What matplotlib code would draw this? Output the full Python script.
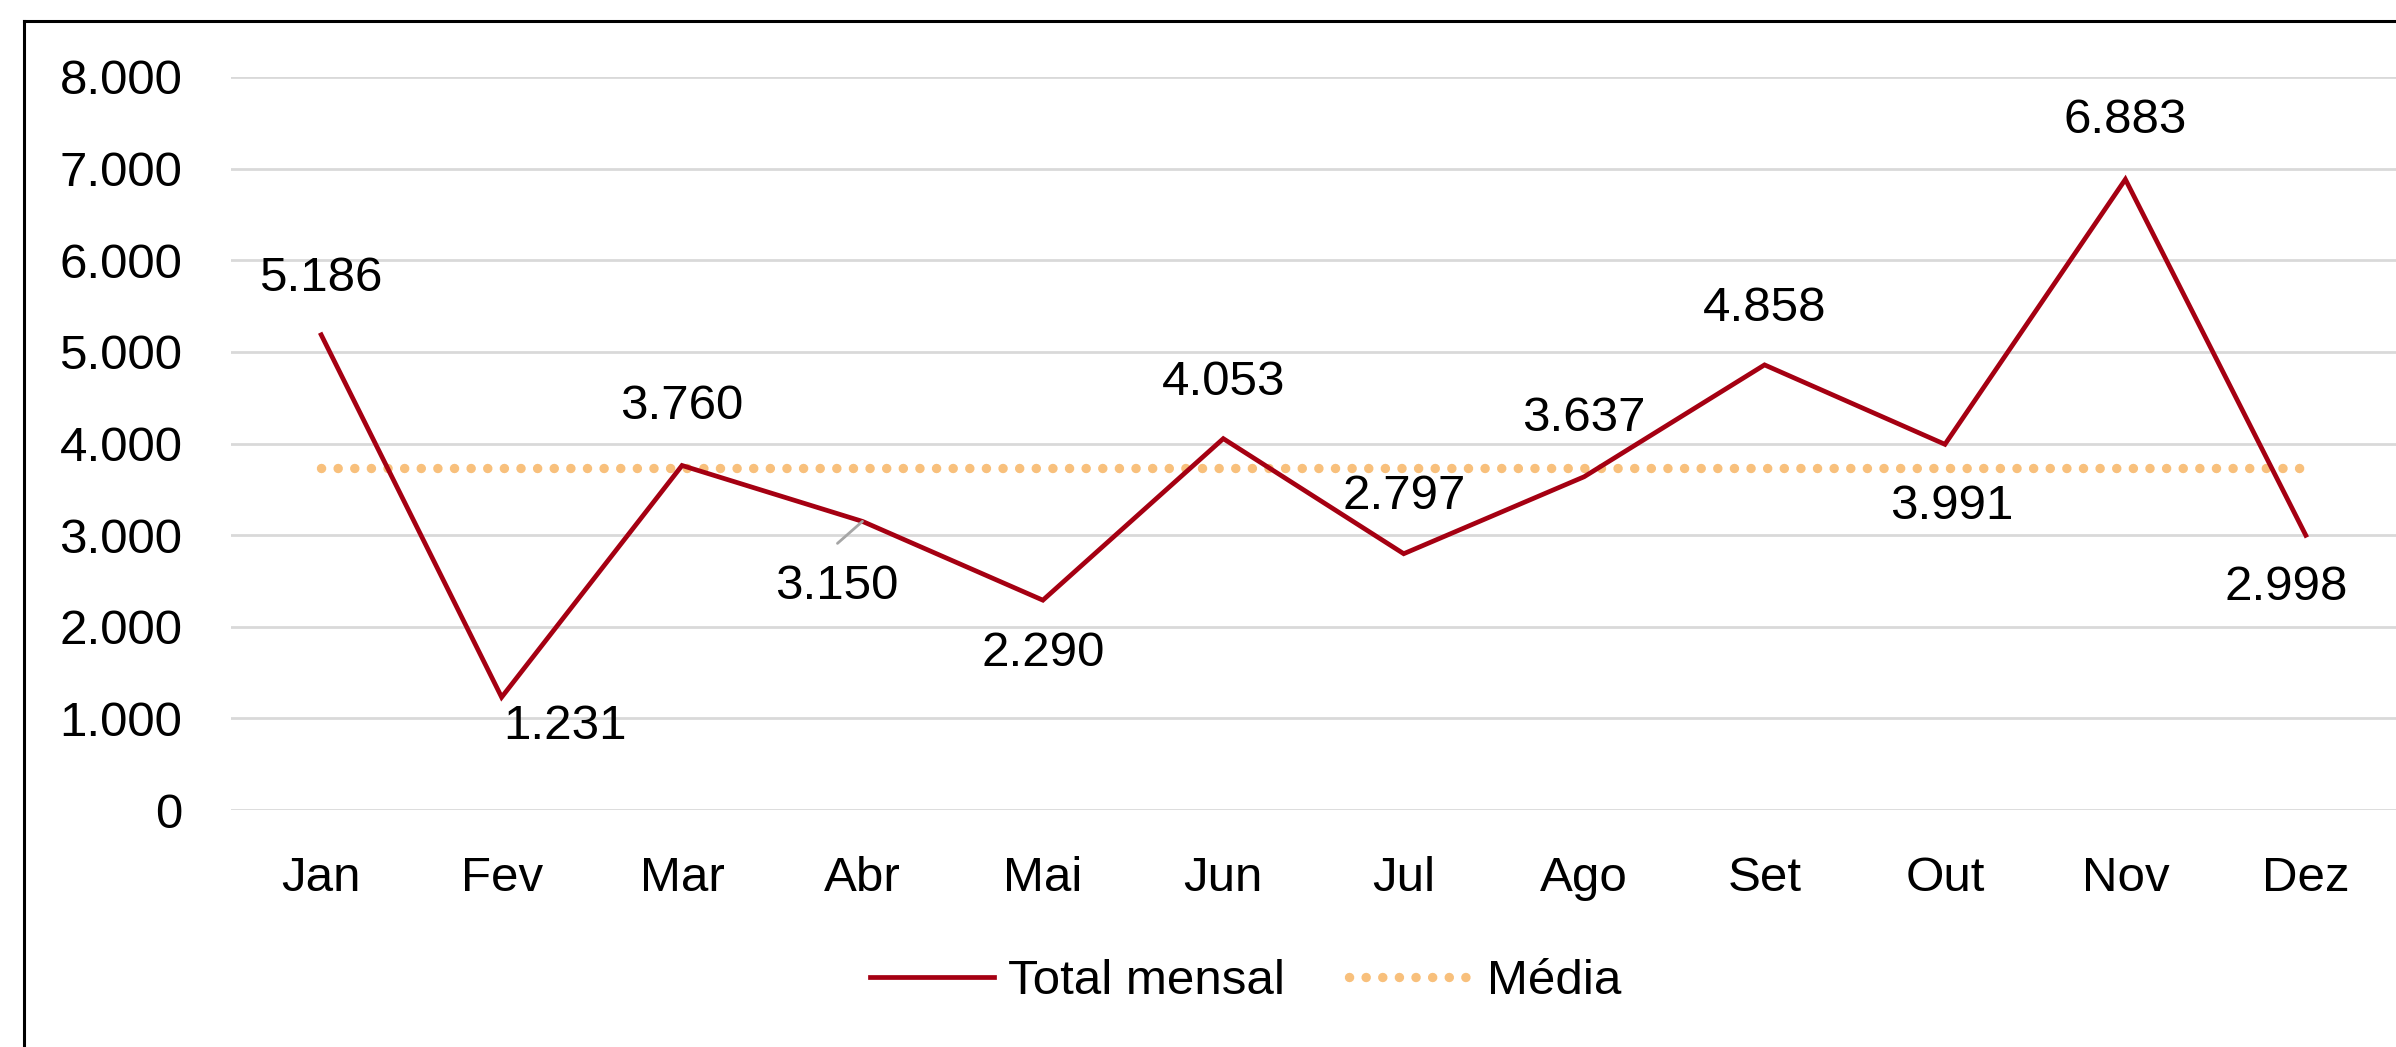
import matplotlib
matplotlib.use("Agg")
import matplotlib.pyplot as plt
from matplotlib.lines import Line2D
from matplotlib.ticker import FuncFormatter

# ---- data ----
months = ["Jan", "Fev", "Mar", "Abr", "Mai", "Jun", "Jul", "Ago", "Set", "Out", "Nov", "Dez"]
total_mensal = [5186, 1231, 3760, 3150, 2290, 4053, 2797, 3637, 4858, 3991, 6883, 2998]
media_value = sum(total_mensal) / len(total_mensal)
media = [media_value] * len(months)
y_ticks = [0, 1000, 2000, 3000, 4000, 5000, 6000, 7000, 8000]

# ---- layout (label offsets in pixels, centre of label relative to point) ----
label_offsets = [(0, 61), (63, -25), (0, 63), (-26, -61), (0, -49), (0, 61),
                 (0, 62), (0, 63), (0, 61), (7, -58), (0, 63), (-20, -48)]

W, H, DPI = 2396, 1047, 100
plt.rcParams["font.family"] = ["Liberation Sans", "DejaVu Sans"]
FS = 35.5
RED = "#A50012"
ORANGE = "#F8C07C"
GRID = "#D9D9D9"

fig = plt.figure(figsize=(W / DPI, H / DPI), dpi=DPI)
ax = fig.add_axes([231 / W, (H - 810) / H, (W - 231) / W, (810 - 77) / H])

x = list(range(len(months)))
ax.plot(x, total_mensal, color=RED, lw=3.4, solid_joinstyle="miter", zorder=3,
        label="Total mensal")
ax.plot(x, media, color=ORANGE, lw=6.8, linestyle=(0, (0.01, 1.75)),
        dash_capstyle="round", zorder=2, label="Média")

ax.set_xlim(-0.5, len(months) - 0.5)
ax.set_ylim(0, 8000)
ax.set_yticks(y_ticks)
ax.yaxis.set_major_formatter(FuncFormatter(lambda v, p: f"{int(v):,}".replace(",", ".")))
ax.set_xticks(x)
ax.set_xticklabels(months)
ax.tick_params(axis="both", length=0, labelsize=FS, colors="black")
ax.tick_params(axis="y", pad=35)
ax.tick_params(axis="x", pad=33)
ax.grid(axis="y", color=GRID, lw=2)
ax.set_axisbelow(True)
for s in ax.spines.values():
    s.set_visible(False)

# data labels
cap_half = 17
for i, (v, (dx, dy)) in enumerate(zip(total_mensal, label_offsets)):
    ax.annotate(f"{v:,}".replace(",", "."), xy=(i, v), xytext=(dx, dy - cap_half),
                textcoords="offset pixels", ha="center", va="baseline",
                fontsize=FS, color="black", zorder=4)

# leader line for Abr
ax.annotate("", xy=(3, total_mensal[3]), xytext=(-25, -22), textcoords="offset pixels",
            arrowprops=dict(arrowstyle="-", color="#A6A6A6", lw=2, shrinkA=0, shrinkB=0))

# legend
leg = fig.legend(handles=ax.get_lines(), loc="center", ncol=2, frameon=False,
                 bbox_to_anchor=(1246 / W, (H - 982) / H), fontsize=FS,
                 handlelength=2.5, handletextpad=0.3, columnspacing=1.3, borderpad=0)

# outer border (left and top)
fig.add_artist(Line2D([24 / W, 24 / W], [0, 1 - 21 / H], color="black", lw=2.2,
                      transform=fig.transFigure))
fig.add_artist(Line2D([24 / W, 1], [1 - 21 / H, 1 - 21 / H], color="black", lw=2.2,
                      transform=fig.transFigure))

fig.savefig("out.png", dpi=DPI, facecolor="white")
